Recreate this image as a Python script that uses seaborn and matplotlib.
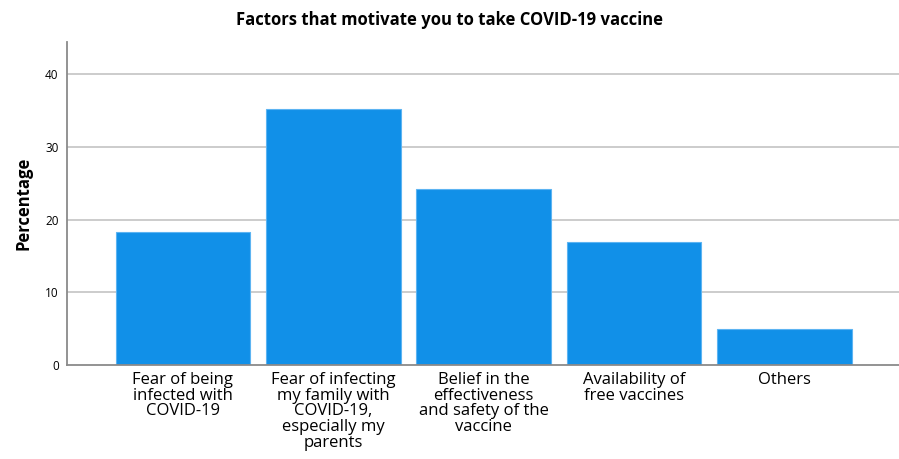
import matplotlib
matplotlib.use("Agg")
import matplotlib.pyplot as plt
import seaborn as sns
import pandas as pd

# Data
factors = [
    "Fear of being\ninfected with\nCOVID-19",
    "Fear of infecting\nmy family with\nCOVID-19,\nespecially my\nparents",
    "Belief in the\neffectiveness\nand safety of the\nvaccine",
    "Availability of\nfree vaccines",
    "Others",
]
percentages = [18.25, 35.2, 24.2, 16.95, 5.0]

df = pd.DataFrame({"Factor": factors, "Percentage": percentages})

sns.set_theme(style="white")
plt.rcParams["font.family"] = ["Open Sans", "DejaVu Sans"]
plt.rcParams["text.color"] = "black"
plt.rcParams["axes.labelcolor"] = "black"
plt.rcParams["xtick.color"] = "black"
plt.rcParams["ytick.color"] = "black"

fig = plt.figure(figsize=(8.99, 4.59), dpi=100)
ax = fig.add_axes([0.0745, 0.2048, 0.9255, 0.7037])

# Horizontal grid lines behind the bars
for y in [10, 20, 30, 40]:
    ax.axhline(y, color="#c8c8c8", linewidth=1.3, zorder=0)

sns.barplot(
    data=df,
    x="Factor",
    y="Percentage",
    color="#1190e8",
    saturation=1,
    width=0.894,
    edgecolor="#5cb4f2",
    linewidth=0.8,
    ax=ax,
    zorder=2,
)

ax.set_xlim(-0.77, 4.76)
ax.set_ylim(0, 44.4)
ax.set_yticks([0, 10, 20, 30, 40])
ax.tick_params(axis="y", labelsize=8.5, length=0, pad=6)
ax.tick_params(axis="x", length=0, pad=5)
for lbl in ax.get_xticklabels():
    lbl.set_fontsize(12)
    lbl.set_linespacing(0.98)

ax.set_xlabel("")
ax.set_ylabel("Percentage", fontsize=12, fontweight="bold", labelpad=9)

for side in ["top", "right"]:
    ax.spines[side].set_visible(False)
for side in ["left", "bottom"]:
    ax.spines[side].set_color("#8a8a8a")
    ax.spines[side].set_linewidth(1.3)

fig.suptitle(
    "Factors that motivate you to take COVID-19 vaccine",
    fontsize=12,
    fontweight="bold",
    x=0.5,
    y=0.975,
)

fig.savefig("out.png", dpi=100)
